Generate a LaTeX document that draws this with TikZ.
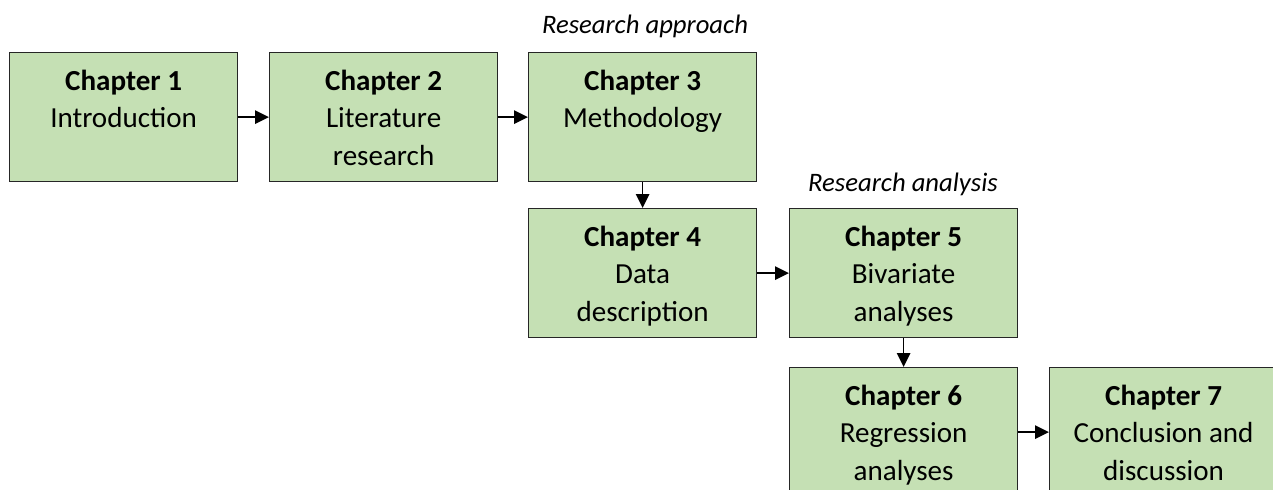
\documentclass[tikz,border=0pt]{standalone}
\usepackage{fontspec}
\setmainfont{Carlito}
\usetikzlibrary{arrows.meta}
\definecolor{boxgreen}{HTML}{C5E0B4}

\begin{document}
\begin{tikzpicture}[>={Triangle[length=10.5pt,width=10pt]}, x=.75pt, y=-.75pt,
    chapbox/.style={draw=black!85, fill=boxgreen, line width=.9pt, inner sep=0pt, anchor=north west},
    arr/.style={->, line width=1.3pt},
    part/.style={anchor=base, inner sep=0pt, font=\fontsize{20}{24}\selectfont\itshape}]
    \def\chap#1#2{\parbox[c][96.75pt][t]{171pt}{\centering\fontsize{21.8}{28}\selectfont\rule{0pt}{28.5pt}\textbf{Chapter #1}\\#2}}
    \useasboundingbox (0,0) rectangle (1273,489);
    \node[chapbox] (c1) at (9,52) {\chap{1}{Introduction}};
    \node[chapbox] (c2) at (269,52) {\chap{2}{Literature\\research}};
    \node[chapbox] (c3) at (528,52) {\chap{3}{Methodology}};
    \node[chapbox] (c4) at (528,208) {\chap{4}{Data\\description}};
    \node[chapbox] (c5) at (789,208) {\chap{5}{Bivariate\\analyses}};
    \node[chapbox] (c6) at (789,367) {\chap{6}{Regression\\analyses}};
    \node[chapbox] (c7) at (1049,367) {\chap{7}{Conclusion and\\discussion}};
    \node[part] (approach) at (645,33) {Research approach};
    \node[part] (analysis) at (903,191) {Research analysis};
    \draw[arr] (c1) -- (c2);
    \draw[arr] (c2) -- (c3);
    \draw[arr] (c3) -- (c4);
    \draw[arr] (c4) -- (c5);
    \draw[arr] (c5) -- (c6);
    \draw[arr] (c6) -- (c7);
\end{tikzpicture}
\end{document}
